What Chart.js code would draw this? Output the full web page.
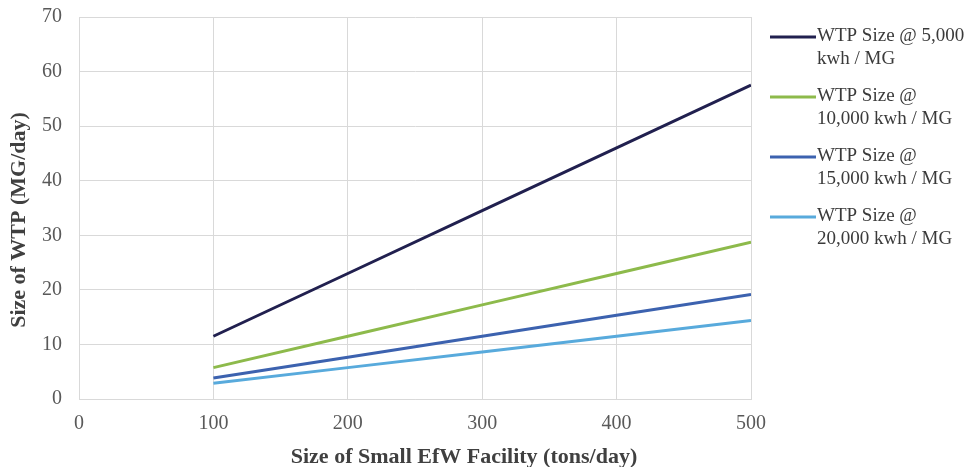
<!DOCTYPE html>
<html>
<head>
<meta charset="utf-8">
<script src="https://cdn.jsdelivr.net/npm/chart.js@4.4.1/dist/chart.umd.min.js"></script>
<style>
  html, body { margin: 0; padding: 0; background: #fff; }
  #wrap { width: 966px; height: 467px; position: relative; }
</style>
</head>
<body>
<div id="wrap"><canvas id="chart"></canvas></div>
<script>
// facility size (tons/day)
const facilitySizes = [100, 200, 300, 400, 500];

// WTP size (MG/day) for each energy intensity
const wtp5000 = [11.5, 23.0, 34.5, 46.0, 57.5];
const wtp10000 = [5.75, 11.5, 17.25, 23.0, 28.75];
const wtp15000 = [3.83, 7.67, 11.5, 15.33, 19.17];
const wtp20000 = [2.88, 5.75, 8.63, 11.5, 14.38];

const seriesLabels = [
    ["WTP Size @ 5,000", "kwh / MG"],
    ["WTP Size @", "10,000 kwh / MG"],
    ["WTP Size @", "15,000 kwh / MG"],
    ["WTP Size @", "20,000 kwh / MG"],
];
const seriesColors = ["#21204f", "#8dba4b", "#3c62af", "#58aadc"];

const xTitle = "Size of Small EfW Facility (tons/day)";
const yTitle = "Size of WTP (MG/day)";

const FONT = "'Liberation Serif', 'Times New Roman', serif";

function toPoints(values) {
    return facilitySizes.map((x, i) => ({ x: x, y: values[i] }));
}

const allSeries = [wtp5000, wtp10000, wtp15000, wtp20000];

// legend on the right with wrapped labels, plus the axis titles
const sideLegend = {
    id: "sideLegend",
    afterDraw(chart) {
        const ctx = chart.ctx;
        const rowsY = [37, 97, 157, 217];
        ctx.save();
        ctx.font = "19px " + FONT;
        ctx.textBaseline = "middle";
        ctx.fillStyle = "#3a3a3a";
        chart.data.datasets.forEach((ds, i) => {
            const y = rowsY[i];
            ctx.strokeStyle = ds.borderColor;
            ctx.lineWidth = 3;
            ctx.beginPath();
            ctx.moveTo(770, y);
            ctx.lineTo(816, y);
            ctx.stroke();
            ds.label.forEach((line, j) => {
                ctx.fillText(line, 817, y - 1 + j * 23);
            });
        });

        // axis titles
        ctx.font = "bold 22px " + FONT;
        ctx.fillStyle = "#404040";
        ctx.textAlign = "center";
        ctx.textBaseline = "alphabetic";
        ctx.fillText(xTitle, 464, 463);

        ctx.translate(25, 220);
        ctx.rotate(-Math.PI / 2);
        ctx.fillText(yTitle, 0, 0);
        ctx.restore();
    }
};

new Chart(document.getElementById("chart"), {
    type: "line",
    data: {
        datasets: allSeries.map((vals, i) => ({
            label: seriesLabels[i],
            data: toPoints(vals),
            borderColor: seriesColors[i],
            backgroundColor: seriesColors[i],
            borderWidth: 3,
            pointRadius: 0,
            tension: 0,
        })),
    },
    options: {
        responsive: true,
        maintainAspectRatio: false,
        animation: false,
        layout: { padding: { top: 17, right: 215, left: 0, bottom: 0 } },
        plugins: {
            legend: { display: false },
            tooltip: { enabled: false },
        },
        scales: {
            x: {
                type: "linear",
                min: 0,
                max: 500,
                ticks: { stepSize: 100, color: "#595959", font: { family: FONT, size: 20 }, padding: 13, maxRotation: 0 },
                grid: { color: "#d9d9d9", lineWidth: 1, drawTicks: false },
                border: { color: "#d9d9d9" },
                afterFit(scale) {
                    scale.height = 68;
                    scale.paddingLeft = 0;
                    scale.paddingRight = 0;
                },
            },
            y: {
                min: 0,
                max: 70,
                ticks: { stepSize: 10, color: "#595959", font: { family: FONT, size: 20 }, padding: 17 },
                grid: { color: "#d9d9d9", lineWidth: 1, drawTicks: false },
                border: { color: "#d9d9d9" },
                afterFit(scale) {
                    scale.width = 79;
                    scale.paddingTop = 0;
                    scale.paddingBottom = 0;
                },
            },
        },
    },
    plugins: [sideLegend],
});
</script>
</body>
</html>
